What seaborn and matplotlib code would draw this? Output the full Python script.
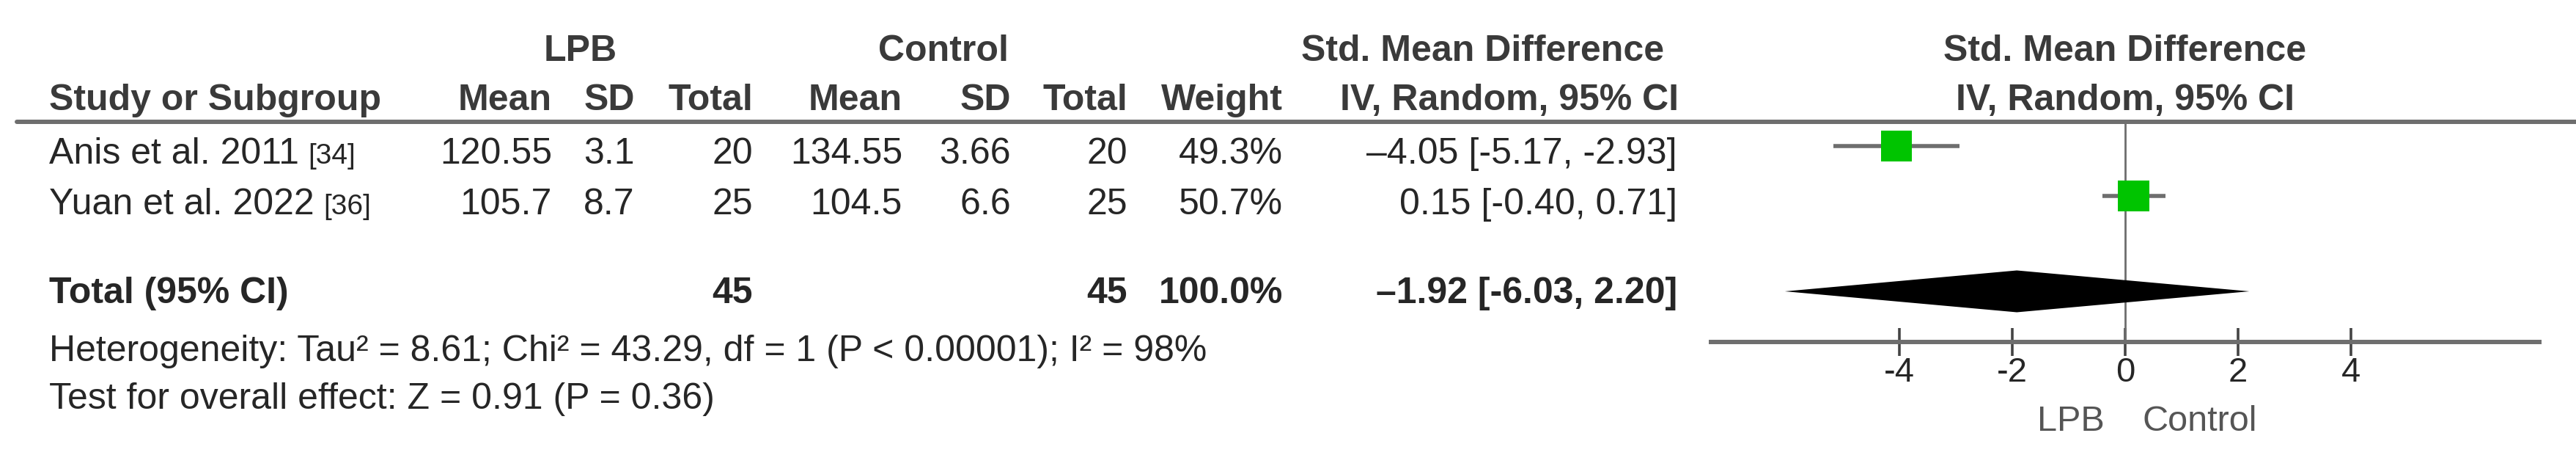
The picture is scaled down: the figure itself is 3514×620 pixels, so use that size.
import numpy as np
import pandas as pd
import matplotlib
matplotlib.use("Agg")
import matplotlib.pyplot as plt
from matplotlib.lines import Line2D
import seaborn as sns

# Study data
studies = ["Anis et al. 2011", "Yuan et al. 2022"]
citations = ["[34]", "[36]"]
lpb_mean = ["120.55", "105.7"]
lpb_sd = ["3.1", "8.7"]
lpb_total = [20, 25]
ctrl_mean = ["134.55", "104.5"]
ctrl_sd = ["3.66", "6.6"]
ctrl_total = [20, 25]
weights = [49.3, 50.7]
smd = [-4.05, 0.15]
ci_low = [-5.17, -0.40]
ci_high = [-2.93, 0.71]

# Pooled result
total_lpb = 45
total_ctrl = 45
total_weight = 100.0
total_smd = -1.92
total_low = -6.03
total_high = 2.20

heterogeneity = "Heterogeneity: Tau² = 8.61; Chi² = 43.29, df = 1 (P < 0.00001); I² = 98%"
overall = "Test for overall effect: Z = 0.91 (P = 0.36)"
axis_ticks = [-4, -2, 0, 2, 4]

# Layout (pixels from the top-left corner)
W, H = 3514, 620
LEFT = 67
COLS = [753, 866, 1027, 1231, 1379, 1538, 1750, 2288]
Y_GROUP, Y_HEAD = 83, 150
Y_ROWS = [223, 292]
Y_TOTAL, Y_HET, Y_TEST = 413, 492, 557
MARK_Y = [199, 267]
DIAMOND_Y = 397
PLOT_L, PLOT_R, PLOT_T, PLOT_B = 2334, 3464, 166, 466

TXT = "#262626"
HDR = "#3a3a3a"
GREY = "#6e6e6e"
GREEN = "#00c400"
FS = 36

sns.set_style("white")
plt.rcParams["font.family"] = ["Liberation Sans", "DejaVu Sans"]
plt.rcParams["axes.unicode_minus"] = False


def fx(x):
    return x / W


def fy(y):
    return 1 - y / H


def fmt_smd(v, lo, hi):
    est = f"\u2013{abs(v):.2f}" if v < 0 else f"{v:.2f}"
    return f"{est} [{lo:.2f}, {hi:.2f}]"


fig = plt.figure(figsize=(W / 100, H / 100), dpi=100, facecolor="white")
tab = fig.add_axes([0, 0, 1, 1])
tab.axis("off")


def put(x, y, s, ha="right", bold=False, size=FS, color=TXT):
    return tab.text(fx(x), fy(y), s, ha=ha, va="baseline", fontsize=size,
                    fontweight="bold" if bold else "normal", color=color,
                    transform=fig.transFigure)


# Headers
put(792, Y_GROUP, "LPB", ha="center", bold=True, color=HDR)
put(1287, Y_GROUP, "Control", ha="center", bold=True, color=HDR)
put(2023, Y_GROUP, "Std. Mean Difference", ha="center", bold=True, color=HDR)
put(LEFT, Y_HEAD, "Study or Subgroup", ha="left", bold=True, color=HDR)
for x, s in zip(COLS, ["Mean", "SD", "Total", "Mean", "SD", "Total", "Weight",
                       "IV, Random, 95% CI"]):
    put(x + (2 if s.startswith("IV") else 0), Y_HEAD, s, bold=True, color=HDR)

fig.add_artist(Line2D([fx(23), 1.0], [fy(PLOT_T)] * 2, transform=fig.transFigure,
                      color=GREY, lw=4.3))

# Study rows
for i, name in enumerate(studies):
    y = Y_ROWS[i]
    t = put(LEFT, y, name, ha="left")
    tab.annotate(citations[i], xy=(1, fy(y)), xycoords=(t, "figure fraction"),
                 xytext=(9, 0), textcoords="offset points", ha="left",
                 va="baseline", fontsize=28, color=TXT)
    vals = [lpb_mean[i], lpb_sd[i], str(lpb_total[i]), ctrl_mean[i], ctrl_sd[i],
            str(ctrl_total[i]), f"{weights[i]:.1f}%",
            fmt_smd(smd[i], ci_low[i], ci_high[i])]
    for x, s in zip(COLS, vals):
        put(x, y, s)

# Total row
put(LEFT, Y_TOTAL, "Total (95% CI)", ha="left", bold=True)
put(COLS[2], Y_TOTAL, str(total_lpb), bold=True)
put(COLS[5], Y_TOTAL, str(total_ctrl), bold=True)
put(COLS[6], Y_TOTAL, f"{total_weight:.1f}%", bold=True)
put(COLS[7], Y_TOTAL, fmt_smd(total_smd, total_low, total_high), bold=True)
put(LEFT, Y_HET, heterogeneity, ha="left")
put(LEFT, Y_TEST, overall, ha="left")

# Forest plot
ax = fig.add_axes([fx(PLOT_L), fy(PLOT_B), (PLOT_R - PLOT_L) / W, (PLOT_B - PLOT_T) / H])
ax.set_facecolor("none")
ax.axvline(0, color=GREY, lw=2, zorder=1)
ax.hlines(MARK_Y, ci_low, ci_high, color=GREY, lw=4, zorder=2)

df = pd.DataFrame({"smd": smd, "y": MARK_Y, "weight": weights})
sns.scatterplot(data=df, x="smd", y="y", size="weight",
                sizes={w: w * 18.3 for w in weights}, marker="s", color=GREEN,
                edgecolor="none", linewidth=0, legend=False, ax=ax, zorder=3)

half = 28.5
ax.fill([total_low, total_smd, total_high, total_smd],
        [DIAMOND_Y, DIAMOND_Y - half, DIAMOND_Y, DIAMOND_Y + half],
        color="black", lw=0, zorder=3)

ax.set_xlim(-7.34, 7.34)
ax.set_ylim(PLOT_B, PLOT_T)
ax.set_xlabel("")
ax.set_ylabel("")
ax.set_yticks([])
ax.set_xticks(axis_ticks)
ax.tick_params(axis="x", bottom=True, direction="inout", length=27, width=2.6,
               color="#444444", labelcolor=TXT, labelsize=34, pad=1)
sns.despine(ax=ax, left=True)
ax.spines["bottom"].set_color(GREY)
ax.spines["bottom"].set_linewidth(4.3)

# Plot header and direction labels
for y, s in [(Y_GROUP, "Std. Mean Difference"), (Y_HEAD, "IV, Random, 95% CI")]:
    ax.annotate(s, xy=(0, fy(y)), xycoords=("data", "figure fraction"),
                ha="center", va="baseline", fontsize=FS, fontweight="bold",
                color=HDR, annotation_clip=False)
ax.annotate("LPB", xy=(0, fy(587)), xycoords=("data", "figure fraction"),
            xytext=(-20, 0), textcoords="offset points", ha="right",
            va="baseline", fontsize=35, color="#555555", annotation_clip=False)
ax.annotate("Control", xy=(0, fy(587)), xycoords=("data", "figure fraction"),
            xytext=(17, 0), textcoords="offset points", ha="left",
            va="baseline", fontsize=35, color="#555555", annotation_clip=False)

fig.savefig("out.png", dpi=100, facecolor="white")
